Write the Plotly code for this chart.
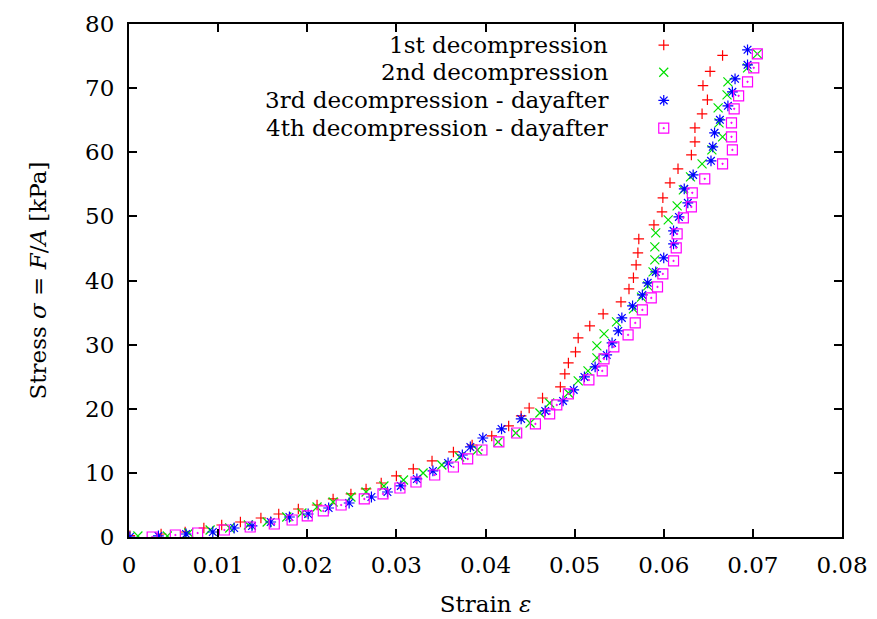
import plotly.graph_objects as go

# ---- data (strain, stress kPa) ----
names = ["1st decompression", "2nd decompression",
         "3rd decompression - dayafter", "4th decompression - dayafter"]

x1 = [0.0001, 0.0036, 0.0063, 0.0084, 0.0104, 0.0125, 0.0148, 0.0168, 0.0190, 0.0211,
      0.0229, 0.0249, 0.0266, 0.0283, 0.0300, 0.0319, 0.0340, 0.0364, 0.0385, 0.0407,
      0.0426, 0.0440, 0.0449, 0.0464, 0.0484, 0.0489, 0.0493, 0.0501, 0.0504, 0.0517,
      0.0532, 0.0552, 0.0561, 0.0566, 0.0569, 0.0571, 0.0572, 0.0589, 0.0598, 0.0599,
      0.0607, 0.0616, 0.0631, 0.0635, 0.0635, 0.0643, 0.0649, 0.0644, 0.0652, 0.0666]
y1 = [0.2, 0.47, 0.78, 1.40, 1.87, 2.34, 2.96, 3.59, 4.37, 4.99,
      5.93, 6.71, 7.49, 8.42, 9.52, 10.61, 11.86, 13.26, 14.35, 15.76,
      17.32, 18.88, 20.12, 21.68, 23.40, 25.43, 27.15, 28.86, 31.05, 32.92,
      34.79, 36.66, 38.69, 40.41, 42.43, 44.31, 46.49, 48.67, 50.70, 52.89,
      55.23, 57.41, 59.59, 61.62, 63.81, 65.99, 68.17, 70.40, 72.60, 75.10]

x2 = [0.0010, 0.0043, 0.0067, 0.0091, 0.0113, 0.0134, 0.0155, 0.0177, 0.0194, 0.0211,
      0.0229, 0.0249, 0.0266, 0.0286, 0.0308, 0.0330, 0.0351, 0.0371, 0.0391, 0.0414,
      0.0434, 0.0450, 0.0461, 0.0472, 0.0493, 0.0504, 0.0515, 0.0525, 0.0525, 0.0533,
      0.0547, 0.0566, 0.0575, 0.0582, 0.0588, 0.0590, 0.0590, 0.0591, 0.0605, 0.0615,
      0.0622, 0.0630, 0.0643, 0.0654, 0.0666, 0.0662, 0.0661, 0.0671, 0.0672, 0.0694,
      0.0705]
y2 = [0.16, 0.16, 0.62, 1.09, 1.40, 1.87, 2.34, 3.12, 3.74, 4.68,
      5.46, 6.24, 7.02, 7.96, 8.89, 9.98, 11.23, 12.48, 13.57, 14.82,
      16.22, 17.78, 19.34, 20.90, 22.46, 24.34, 25.90, 27.93, 29.80, 31.67,
      33.54, 35.57, 37.40, 39.16, 41.34, 43.21, 45.24, 47.43, 49.45, 51.64,
      54.13, 56.16, 58.19, 60.37, 62.40, 64.59, 66.93, 68.95, 70.98, 73.17,
      75.35]

x3 = [0.0001, 0.0033, 0.0064, 0.0094, 0.0118, 0.0138, 0.0159, 0.0180, 0.0201, 0.0224,
      0.0247, 0.0272, 0.0290, 0.0305, 0.0323, 0.0341, 0.0358, 0.0374, 0.0383, 0.0397,
      0.0418, 0.0440, 0.0467, 0.0487, 0.0499, 0.0511, 0.0523, 0.0536, 0.0542, 0.0549,
      0.0553, 0.0565, 0.0576, 0.0582, 0.0591, 0.0600, 0.0611, 0.0611, 0.0617, 0.0627,
      0.0623, 0.0633, 0.0653, 0.0655, 0.0657, 0.0663, 0.0672, 0.0677, 0.0680, 0.0694,
      0.0694]
y3 = [0.0, 0.16, 0.47, 0.78, 1.40, 1.72, 2.34, 3.12, 3.59, 4.52,
      5.30, 6.24, 7.02, 7.96, 9.05, 10.30, 11.54, 12.79, 14.04, 15.44,
      16.85, 18.41, 19.66, 21.22, 22.93, 24.96, 26.52, 28.39, 30.27, 32.14,
      34.17, 36.04, 37.75, 39.63, 41.34, 43.53, 45.71, 47.74, 49.92, 52.11,
      54.29, 56.47, 58.66, 60.84, 63.03, 65.05, 67.24, 69.42, 71.45, 73.63,
      75.98]

x4 = [0.0026, 0.0052, 0.0077, 0.0107, 0.0136, 0.0163, 0.0183, 0.0200, 0.0218, 0.0238,
      0.0264, 0.0285, 0.0304, 0.0322, 0.0343, 0.0364, 0.0380, 0.0396, 0.0415, 0.0435,
      0.0456, 0.0472, 0.0480, 0.0493, 0.0516, 0.0531, 0.0533, 0.0544, 0.0560, 0.0568,
      0.0576, 0.0586, 0.0593, 0.0599, 0.0611, 0.0614, 0.0615, 0.0622, 0.0631, 0.0632,
      0.0646, 0.0666, 0.0677, 0.0676, 0.0676, 0.0679, 0.0684, 0.0694, 0.0701, 0.0705]
y4 = [0.0, 0.31, 0.62, 1.09, 1.56, 2.03, 2.65, 3.28, 4.06, 4.99,
      5.93, 6.71, 7.64, 8.58, 9.67, 10.92, 12.17, 13.57, 14.82, 16.22,
      17.63, 19.19, 20.59, 22.31, 24.49, 25.90, 27.77, 29.64, 31.51, 33.39,
      35.41, 37.29, 39.00, 41.03, 43.06, 45.09, 47.27, 49.77, 51.48, 53.67,
      55.85, 58.19, 60.37, 62.40, 64.59, 66.77, 68.80, 70.98, 73.17, 75.35]

xs = [x1, x2, x3, x4]
ys = [y1, y2, y3, y4]

# ---- styles ----
colors = ["#ff0000", "#00e000", "#0000ff", "#ff00ff"]
symbols = ["cross-thin-open", "x-thin-open", "asterisk-open", "square-open-dot"]
msizes = [7.5, 9, 9, 10]
FONT = "DejaVu Serif"
TICK_SIZE = 23
LEG_SIZE = 23

fig = go.Figure()
for xv, yv, c, s, ms, n in zip(xs, ys, colors, symbols, msizes, names):
    fig.add_trace(go.Scatter(
        x=xv, y=yv, mode="markers", name=n, showlegend=False,
        marker=dict(symbol=s, size=ms, color=c, line=dict(color=c, width=1.2)),
    ))

# ---- custom legend (text left, symbol right, as in gnuplot) ----
leg_text_x = 0.674     # right edge of text, paper fraction
leg_sym_x = 0.750      # symbol position on the overlay axis
leg_rows = [0.959, 0.906, 0.851, 0.797]
for c, s, ms, n, ry in zip(colors, symbols, msizes, names, leg_rows):
    fig.add_annotation(text=n, xref="paper", yref="paper", x=leg_text_x, y=ry,
                       xanchor="right", yanchor="middle", showarrow=False,
                       font=dict(family=FONT, size=LEG_SIZE, color="black"))
    fig.add_trace(go.Scatter(
        x=[leg_sym_x], y=[ry], xaxis="x2", yaxis="y2", mode="markers",
        showlegend=False, hoverinfo="skip",
        marker=dict(symbol=s, size=ms, color=c, line=dict(color=c, width=1.2)),
    ))

axis_common = dict(
    showline=True, linecolor="black", linewidth=2, mirror="ticks",
    ticks="inside", ticklen=8, tickwidth=1.5, tickcolor="black",
    showgrid=False, zeroline=False, automargin=False,
    tickfont=dict(family=FONT, size=TICK_SIZE, color="black"),
)

fig.update_layout(
    width=877, height=619,
    margin=dict(l=129, r=35, t=24, b=82),
    paper_bgcolor="white", plot_bgcolor="white",
    xaxis=dict(range=[0, 0.08], dtick=0.01, tick0=0, ticklabelstandoff=6,
               title=dict(text="Strain <i>ε</i>", standoff=19,
                          font=dict(family=FONT, size=TICK_SIZE, color="black")),
               **axis_common),
    yaxis=dict(range=[0, 80], dtick=10, tick0=0, ticklabelstandoff=8,
               title=dict(text="Stress <i>σ</i> = <i>F</i>/<i>A</i> [kPa]",
                          standoff=32,
                          font=dict(family=FONT, size=TICK_SIZE, color="black")),
               **axis_common),
    xaxis2=dict(overlaying="x", range=[0, 1], visible=False, domain=[0, 1]),
    yaxis2=dict(overlaying="y", range=[0, 1], visible=False, domain=[0, 1]),
    showlegend=False,
)

fig.write_html("out.html")
